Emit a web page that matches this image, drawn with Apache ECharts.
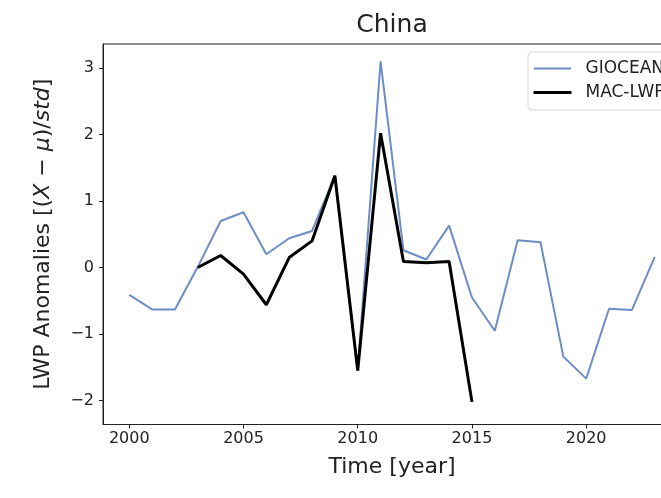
<!DOCTYPE html>
<html>
<head>
<meta charset="utf-8">
<script src="https://cdn.jsdelivr.net/npm/echarts@6/dist/echarts.min.js"></script>
<style>
  html, body { margin: 0; padding: 0; background: #fff; overflow: hidden; }
  #chart { width: 700px; height: 498px; }
</style>
</head>
<body>
<div id="chart"></div>
<script>
// Standardised LWP anomalies over China
const years = [2000, 2001, 2002, 2003, 2004, 2005, 2006, 2007, 2008, 2009, 2010, 2011,
               2012, 2013, 2014, 2015, 2016, 2017, 2018, 2019, 2020, 2021, 2022, 2023];
const gioceanValues = [-0.41, -0.63, -0.63, 0.01, 0.70, 0.83, 0.20, 0.44, 0.55, 1.38, -1.55, 3.10,
                       0.26, 0.12, 0.63, -0.45, -0.95, 0.41, 0.38, -1.34, -1.67, -0.62, -0.64, 0.16];
const macLwpYears = [2003, 2004, 2005, 2006, 2007, 2008, 2009, 2010, 2011, 2012, 2013, 2014, 2015];
const macLwpValues = [0.00, 0.18, -0.10, -0.56, 0.15, 0.40, 1.38, -1.55, 2.02, 0.09, 0.07, 0.09, -2.02];
const xTicks = [2000, 2005, 2010, 2015, 2020];
const yTicks = [-2, -1, 0, 1, 2, 3];

const FONT = 'DejaVu Sans';
const INK = '#222';
const BLUE = '#6d8dc5';
const pair = (xs, ys) => xs.map((x, i) => [x, ys[i]]);
const minus = v => String(v).replace('-', '\u2212');

const chart = echarts.init(document.getElementById('chart'));
chart.setOption({
  animation: false,
  backgroundColor: '#fff',
  textStyle: { fontFamily: FONT },
  title: {
    text: 'China',
    left: 387,
    top: 8,
    textAlign: 'center',
    textStyle: { fontFamily: FONT, fontSize: 25, fontWeight: 'normal', color: INK }
  },
  grid: {
    left: 103, top: 44, width: 578, height: 380.5,
    show: true, borderColor: '#222', borderWidth: 1, backgroundColor: 'transparent'
  },
  legend: {
    orient: 'vertical',
    left: 528, top: 52,
    padding: [8, 60, 9, 5],
    itemWidth: 38, itemHeight: 3, itemGap: 7,
    backgroundColor: '#fff',
    borderColor: '#d6d6d6', borderWidth: 1, borderRadius: 4,
    textStyle: { fontFamily: FONT, fontSize: 17, color: INK, padding: [0, 0, 0, 9] },
    data: [
      { name: 'GIOCEAN', icon: 'rect', itemStyle: { color: BLUE, borderColor: '#fff', borderWidth: 1 } },
      { name: 'MAC-LWP', icon: 'rect', itemStyle: { color: '#000', borderWidth: 0 } }
    ]
  },
  xAxis: {
    type: 'value',
    min: 1998.85, max: 2024.15,
    name: 'Time [year]',
    nameLocation: 'middle',
    nameGap: 32,
    nameTextStyle: { fontFamily: FONT, fontSize: 22, color: INK },
    axisLine: { show: true, onZero: false, lineStyle: { color: '#222', width: 1 } },
    axisTick: { show: true, inside: false, length: 4, customValues: xTicks, lineStyle: { color: '#222' } },
    axisLabel: { customValues: xTicks, margin: 6, fontFamily: FONT, fontSize: 16, color: INK, formatter: v => String(v) },
    splitLine: { show: false }
  },
  yAxis: {
    type: 'value',
    min: -2.36, max: 3.36,
    name: 'LWP Anomalies [({i|X} \u2212 {i|\u03bc})/{i|std}]',
    nameLocation: 'middle',
    nameGap: 49,
    nameRotate: 90,
    nameTextStyle: {
      fontFamily: FONT, fontSize: 22, color: INK,
      rich: { i: { fontFamily: FONT, fontSize: 22, fontStyle: 'italic', color: INK } }
    },
    axisLine: { show: true, onZero: false, lineStyle: { color: '#222', width: 1 } },
    axisTick: { show: true, inside: false, length: 4, customValues: yTicks, lineStyle: { color: '#222' } },
    axisLabel: { customValues: yTicks, margin: 9, fontFamily: FONT, fontSize: 16, color: INK, formatter: minus },
    splitLine: { show: false }
  },
  series: [
    {
      name: 'GIOCEAN',
      type: 'line',
      data: pair(years, gioceanValues),
      symbol: 'none',
      lineStyle: { color: BLUE, width: 2 },
      itemStyle: { color: BLUE },
      z: 2
    },
    {
      name: 'MAC-LWP',
      type: 'line',
      data: pair(macLwpYears, macLwpValues),
      symbol: 'none',
      lineStyle: { color: '#000', width: 3 },
      itemStyle: { color: '#000' },
      z: 3
    }
  ]
});
</script>
</body>
</html>
